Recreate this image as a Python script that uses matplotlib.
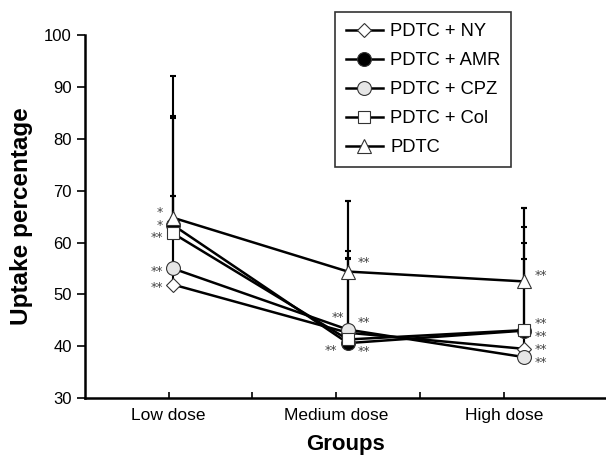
import matplotlib.pyplot as plt

plt.rcParams['font.family'] = ['Liberation Sans', 'DejaVu Sans']

groups = ['Low dose', 'Medium dose', 'High dose']
x_pos = [1.05, 3.14, 5.24]

labels = ['PDTC + NY', 'PDTC + AMR', 'PDTC + CPZ', 'PDTC + Col', 'PDTC']
means = {
    'PDTC + NY': [51.9, 42.6, 39.5],
    'PDTC + AMR': [63.4, 40.6, 43.0],
    'PDTC + CPZ': [55.0, 43.2, 37.9],
    'PDTC + Col': [61.8, 41.3, 43.1],
    'PDTC': [64.8, 54.4, 52.5],
}
upper_err = {
    'PDTC + NY': [17.0, 14.4, 17.3],
    'PDTC + AMR': [21.1, 27.4, 16.9],
    'PDTC + CPZ': [13.9, 15.1, 28.7],
    'PDTC + Col': [22.3, 15.5, 19.9],
    'PDTC': [27.4, 13.6, 14.1],
}

# significance marks: (group index, x offset, y value, text)
star_marks = [
    (0, -0.12, 66.2, '*'), (0, -0.12, 63.7, '*'), (0, -0.12, 61.4, '**'),
    (0, -0.12, 54.9, '**'), (0, -0.12, 51.8, '**'),
    (1, 0.12, 56.6, '**'), (1, -0.05, 46.0, '**'), (1, 0.12, 45.0, '**'),
    (1, -0.13, 39.6, '**'), (1, 0.12, 39.4, '**'),
    (2, 0.13, 54.1, '**'), (2, 0.13, 44.8, '**'), (2, 0.13, 42.3, '**'),
    (2, 0.13, 39.8, '**'), (2, 0.13, 37.3, '**'),
]

styles = {
    'PDTC + NY': dict(marker='D', mfc='white', ms=7, z=3),
    'PDTC + AMR': dict(marker='o', mfc='black', ms=10, z=4),
    'PDTC + CPZ': dict(marker='o', mfc='#e6e6e6', ms=10, z=5),
    'PDTC + Col': dict(marker='s', mfc='white', ms=8.5, z=6),
    'PDTC': dict(marker='^', mfc='white', ms=10.5, z=7),
}

fig = plt.figure(figsize=(6.06, 4.57), dpi=100)
ax = fig.add_axes([0.140, 0.129, 0.860, 0.794])

handles = []
for lab in labels:
    st = styles[lab]
    ax.errorbar(x_pos, means[lab], yerr=[[0, 0, 0], upper_err[lab]],
                fmt='none', ecolor='black', elinewidth=1.5, capsize=2,
                capthick=1.5, zorder=2)
    h, = ax.plot(x_pos, means[lab], color='black', lw=1.8,
                 marker=st['marker'], mfc=st['mfc'], mec='#333333',
                 mew=0.8, ms=st['ms'], zorder=st['z'], label=lab)
    handles.append(h)

for gi, dx, y, txt in star_marks:
    ha = 'right' if dx < 0 else 'left'
    ax.text(x_pos[gi] + dx, y - 0.5, txt, ha=ha, va='center',
            fontsize=9, color='#444444', family='DejaVu Sans')

ax.set_xlim(0, 6.22)
ax.set_ylim(30, 100)
ax.set_xticks([1, 2, 3, 4, 5])
ax.set_xticklabels([groups[0], '', groups[1], '', groups[2]])
ax.set_yticks(range(30, 101, 10))
ax.spines['top'].set_visible(False)
ax.spines['right'].set_visible(False)
ax.spines['left'].set_linewidth(1.8)
ax.spines['bottom'].set_linewidth(1.8)
ax.tick_params(axis='x', direction='in', length=4, width=1.2,
               labelsize=12.5, pad=7)
ax.tick_params(axis='y', direction='out', length=6, width=1.2,
               labelsize=12)
ax.set_xlabel('Groups', fontsize=16, fontweight='bold', labelpad=8)
ax.set_ylabel('Uptake percentage', fontsize=17.5, fontweight='bold',
              labelpad=8)

leg = fig.legend(handles=handles, loc='upper left',
                 bbox_to_anchor=(335 / 606, 1 - 12 / 457),
                 borderaxespad=0, frameon=True, fancybox=False,
                 edgecolor='black', fontsize=13.2, handlelength=2.0,
                 labelspacing=0.66, borderpad=0.6, handletextpad=0.4)
leg.get_frame().set_linewidth(1.2)

fig.savefig('out.png', dpi=100)
